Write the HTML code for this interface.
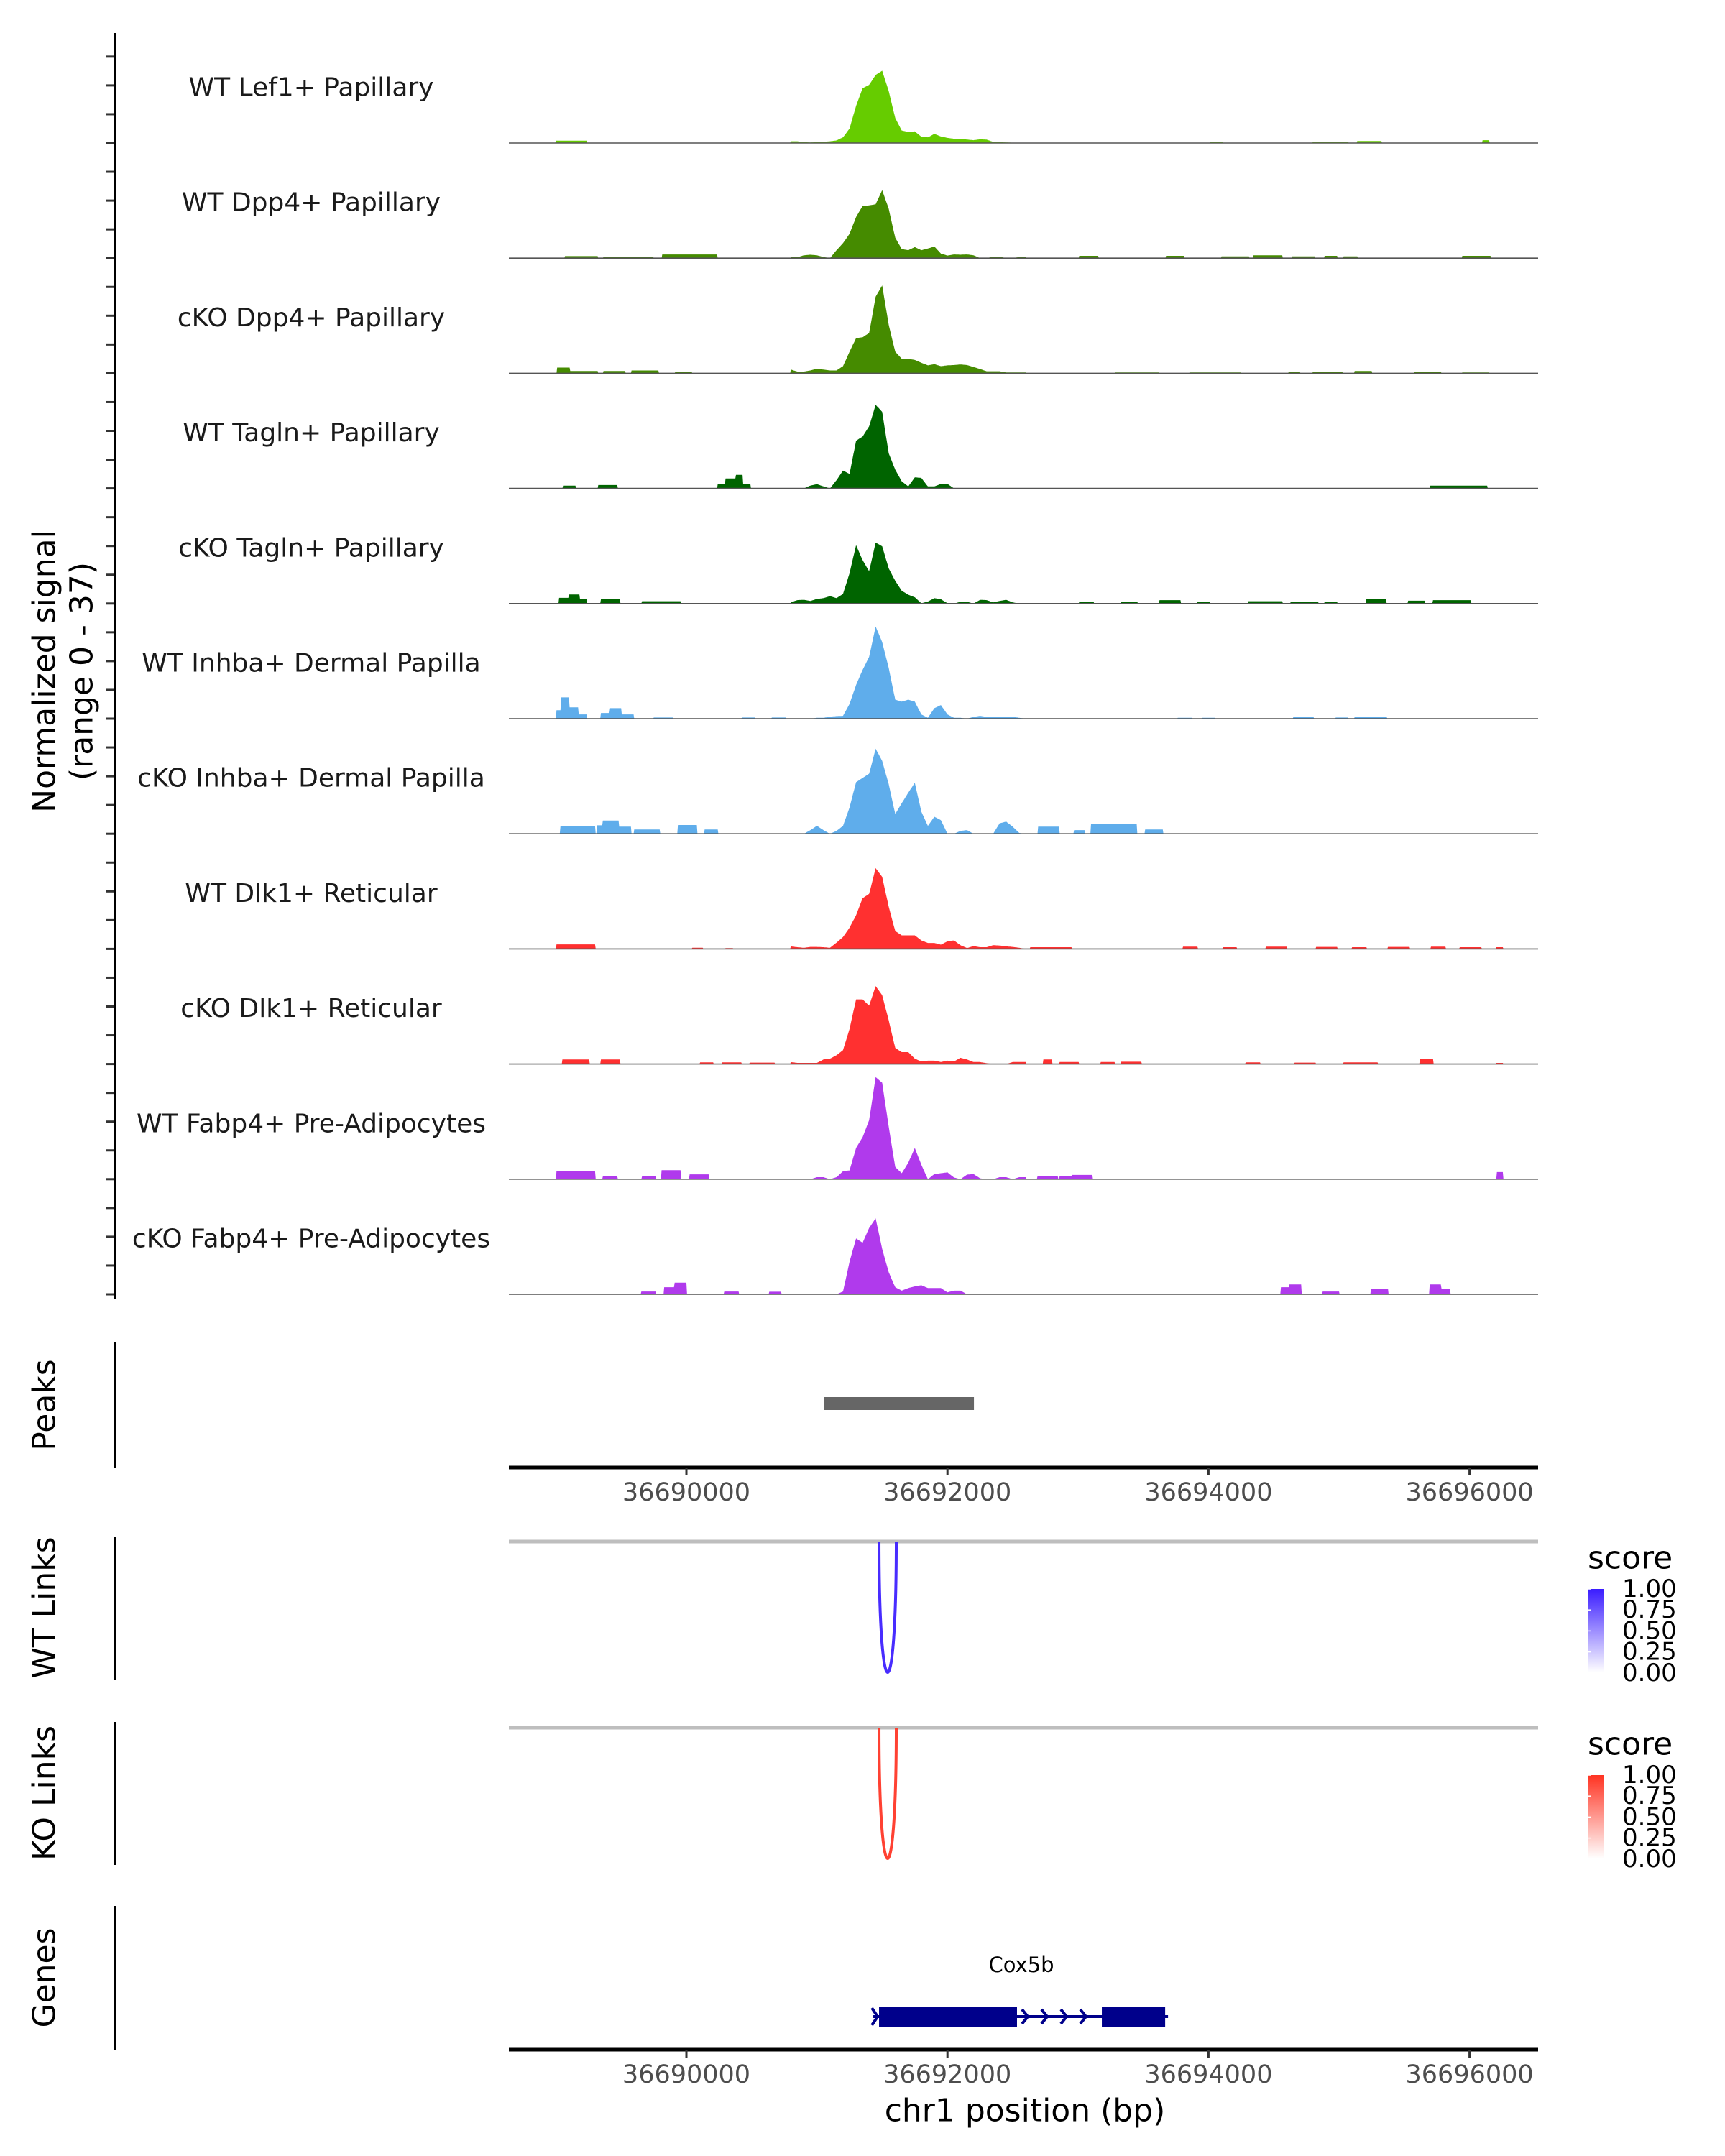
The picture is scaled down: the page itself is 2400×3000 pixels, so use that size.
<!DOCTYPE html>
<html><head><meta charset="utf-8"><style>
html,body{margin:0;padding:0;background:#fff}
svg{display:block;font-family:"DejaVu Sans","Liberation Sans",sans-serif}
</style></head><body>
<svg id="chart" width="2400" height="3000" viewBox="0 0 2400 3000" xmlns="http://www.w3.org/2000/svg">
<rect x="0" y="0" width="2400" height="3000" fill="#fff"/>
<g id="tracks"></g>
<g id="axes"></g>
</svg>
<script>
// ---- data ----
const origin = 36690000;
const trackNames = ["WT Lef1+ Papillary","WT Dpp4+ Papillary","cKO Dpp4+ Papillary","WT Tagln+ Papillary","cKO Tagln+ Papillary","WT Inhba+ Dermal Papilla","cKO Inhba+ Dermal Papilla","WT Dlk1+ Reticular","cKO Dlk1+ Reticular","WT Fabp4+ Pre-Adipocytes","cKO Fabp4+ Pre-Adipocytes"];
const trackColors = ["#66CC00","#458B00","#458B00","#006400","#006400","#5FADEB","#5FADEB","#FF3030","#FF3030","#B03AEC","#B03AEC"];
const gridPos = [36690800,36690850,36690900,36690950,36691000,36691050,36691100,36691150,36691200,36691250,36691300,36691350,36691400,36691450,36691500,36691550,36691600,36691650,36691700,36691750,36691800,36691850,36691900,36691950,36692000,36692050,36692100,36692150,36692200,36692250,36692300,36692350,36692400,36692450,36692500,36692550,36692600];
const peak1 = [0.6,0.6,0.3,0.2,0.3,0.4,0.6,0.9,2.0,5.1,13.1,19.3,20.5,24,25.5,18.3,8.8,4.4,3.9,4.1,2.2,2.0,3.2,2.3,1.8,1.5,1.5,1.2,1.0,1.3,1.2,0.4,0.3,0.2,0.1,0.1,0.1];
const peak2 = [0.3,0.3,1.0,1.2,1.0,0.4,0,2.8,5.3,8.6,14.5,18.4,18.6,19,24,17.4,7.2,3.2,2.8,3.9,2.8,3.4,4.1,1.6,0.9,1.3,1.2,1.3,1.0,0,0,0.5,0.5,0,0,0.4,0.4];
const peak3 = [1.3,0.6,0.6,1.0,1.6,1.3,1.0,1.0,2.5,7.6,12.4,12.7,14.2,27,31,17.1,7.6,5.1,5.1,4.7,3.7,2.8,3.2,2.5,2.8,2.9,3.1,2.9,2.2,1.5,0.7,0.7,0.7,0.3,0.3,0.3,0.3];
const peak4 = [0,0,0,1.0,1.5,0.7,0,2.9,6.3,5.1,16.8,18.3,21.9,29.5,27,12.4,6.6,2.5,0.7,3.9,3.7,0.7,0.7,1.6,1.6,0,0,0,0,0,0,0,0,0,0,0,0];
const peak5 = [0.4,1.2,1.3,0.9,1.6,1.9,2.6,1.9,3.4,10.7,20.6,15.3,11.4,21.5,20.2,12.4,8.0,4.5,3.1,2.2,0.1,0.7,1.9,1.5,0.1,0,0.6,0.6,0,1.3,1.2,0.4,0.9,1.3,0.4,0,0];
const peak6 = [0,0,0,0,0.3,0.3,0.7,0.9,1.0,5.2,11.9,17.2,21.8,32.5,27,17.9,6.7,6.0,6.7,6.0,1.5,0.3,3.7,4.8,1.5,0.3,0.3,0,0.6,1.0,0.6,0.7,0.6,0.6,0.7,0.3,0];
const peak7 = [0,0,0,1.3,2.8,1.3,0,1.0,2.8,9.3,18.2,19.7,21.2,30,25.7,17.5,7.0,10.8,14.5,18,7.8,2.8,6.0,4.8,0,0,1.0,1.3,0,0,0,0,3.7,4.3,2.5,0.3,0];
const peak8 = [0.9,0.6,0.4,0.7,0.7,0.6,0.4,2.2,4.2,7.5,11.9,17.9,19.4,28.5,25.4,14.9,6.3,4.8,4.8,4.8,3.0,2.1,2.1,1.5,2.7,3.0,1.3,0.3,1.0,0.6,0.6,1.3,1.2,0.9,0.7,0.4,0];
const peak9 = [0.7,0.4,0.4,0.4,0.4,1.6,1.9,3.1,4.9,12.4,22.8,22.8,20.6,27.5,24.3,15.4,5.7,4.2,4.2,1.9,0.9,1.2,1.2,0.7,1.2,0.9,2.2,1.6,0.7,0.7,0.3,0,0,0,0.7,0.7,0.7];
const peak10 = [0,0,0,0,0.7,0.7,0,0.7,2.8,3.1,11.0,14.8,20.8,36,34,18.5,4.3,2.1,5.8,11.0,5.1,0,1.8,2.1,2.4,0.6,0,1.6,1.8,0.3,0,0,0.7,0.7,0,0.7,0.7];
const peak11 = [0,0,0,0,0,0,0,0,1.0,11.5,19.7,18.2,23.4,26.8,16.0,7.8,2.5,1.3,2.2,2.8,3.2,2.2,2.2,2.2,0.7,1.3,1.3,0,0,0,0,0,0,0,0,0,0];
// background coverage segments: [start offset from origin, end offset, value]
const bg1 = [[-1002,-765,0.8],[4014,4108,0.4],[4797,5072,0.4],[5138,5325,0.7],[6100,6150,1.0]];
const bg2 = [[-931,-677,0.7],[-639,-253,0.5],[-187,237,1.3],[3007,3156,0.8],[3673,3811,0.8],[4097,4312,0.6],[4345,4565,1.0],[4637,4819,0.6],[4890,4989,0.8],[5033,5144,0.6],[5942,6162,0.8]];
const bg3 = [[-991,-892,2.0],[-892,-677,0.8],[-639,-468,0.8],[-424,-215,1.0],[-88,44,0.5],[3282,3624,0.3],[3855,4246,0.3],[4615,4703,0.5],[4797,5028,0.5],[5116,5254,0.8],[5579,5782,0.6],[5942,6151,0.3]];
const bg4 = [[-947,-848,1.0],[-677,-529,1.2],[237,300,1.5],[300,380,3.5],[380,430,4.8],[430,490,1.5],[5700,6135,1.0]];
const bg5 = [[-975,-900,2],[-900,-820,3.2],[-820,-765,1.5],[-655,-507,1.5],[-341,-44,0.8],[3007,3122,0.5],[3326,3458,0.5],[3624,3789,1.2],[3915,4014,0.5],[4301,4565,0.8],[4626,4841,0.5],[4890,4989,0.5],[5210,5364,1.5],[5529,5656,1.0],[5716,6014,1.2]];
const bg6 = [[-997,-960,3],[-960,-900,7.5],[-900,-830,4],[-830,-765,1.5],[-655,-590,2],[-590,-500,3.7],[-500,-402,1.5],[-253,-105,0.4],[424,529,0.4],[655,760,0.4],[3761,3877,0.3],[3949,4053,0.3],[4648,4808,0.5],[4973,5072,0.4],[5116,5369,0.6]];
const bg7 = [[-969,-699,2.7],[-688,-640,3],[-640,-520,4.7],[-520,-424,2.5],[-402,-204,1.5],[-66,83,3.1],[138,242,1.5],[2693,2858,2.5],[2968,3051,1.3],[3100,3453,3.5],[3513,3651,1.5]];
const bg8 = [[-997,-699,1.6],[44,127,0.4],[297,358,0.3],[2632,2952,0.6],[3805,3915,0.8],[4108,4218,0.6],[4438,4604,0.8],[4824,4989,0.7],[5099,5210,0.6],[5375,5540,0.7],[5705,5815,0.8],[5925,6091,0.6],[6201,6256,0.6]];
const bg9 = [[-953,-743,1.6],[-655,-507,1.6],[105,209,0.6],[275,424,0.6],[485,677,0.5],[2732,2803,1.6],[2858,3007,0.7],[3172,3282,0.7],[3326,3486,0.8],[4285,4395,0.6],[4659,4824,0.5],[5033,5298,0.6],[5617,5722,1.8],[6201,6256,0.4]];
const bg10 = [[-997,-699,2.8],[-644,-529,1.0],[-341,-231,1.0],[-193,-44,3.2],[22,171,1.7],[2687,2847,1.0],[2858,3050,1.2],[2952,3111,1.5],[6206,6256,2.5]];
const bg11 = [[-347,-231,1.0],[-171,-90,2.5],[-90,0,4.1],[286,402,1.0],[633,727,0.9],[4554,4620,2.5],[4620,4714,3.5],[4874,5000,1.0],[5243,5375,2.0],[5694,5780,3.5],[5780,5854,2.0]];
const yMax = 37;
const xTicks = [36690000,36692000,36694000,36696000];
const peakRegion = [36691057,36692203];
const wtLink = [36691476,36691608];
const koLink = [36691476,36691608];
const wtScore = 0.9, koScore = 0.9;
const geneName = "Cox5b";
const geneExons = [[36691476,36692533],[36693183,36693668]];
const legendTicks = ["1.00","0.75","0.50","0.25","0.00"];

// ---- layout ----
const peaks = [peak1,peak2,peak3,peak4,peak5,peak6,peak7,peak8,peak9,peak10,peak11];
const bgs = [bg1,bg2,bg3,bg4,bg5,bg6,bg7,bg8,bg9,bg10,bg11];
const NS = "http://www.w3.org/2000/svg";
const X0 = 708, X1 = 2140;
function xs(bp){ return 955 + (bp - origin) * 0.1816; }
const trackH = 146;
function baseY(i){ return 199 + 160.2 * i; }
function ys(v, i){ return baseY(i) - v / yMax * trackH; }
function mk(tag, attrs, parent){ const e = document.createElementNS(NS, tag); for (const k in attrs) e.setAttribute(k, attrs[k]); parent.appendChild(e); return e; }
const T = document.getElementById('tracks');
const A = document.getElementById('axes');

function valueAt(t, bp){
  let v = 0;
  const gp = gridPos, pv = peaks[t];
  if (bp >= gp[0] && bp <= gp[gp.length-1]) {
    for (let k = 0; k < gp.length-1; k++) {
      if (bp >= gp[k] && bp <= gp[k+1]) { const f = (bp-gp[k])/(gp[k+1]-gp[k]); v = pv[k]*(1-f)+pv[k+1]*f; break; }
    }
  }
  for (const s of bgs[t]) { if (bp-origin >= s[0] && bp-origin <= s[1]) v = Math.max(v, s[2]); }
  return v;
}

for (let t = 0; t < trackNames.length; t++) {
  const b = baseY(t);
  let d = "M" + X0 + "," + b;
  const startBp = origin - 1370, endBp = origin + 6520;
  for (let bp = startBp; bp <= endBp; bp += 5) {
    d += " L" + xs(bp).toFixed(1) + "," + ys(valueAt(t, bp), t).toFixed(1);
  }
  d += " L" + X1 + "," + b + " Z";
  const p = mk('path', {d: d, fill: trackColors[t], stroke: 'none'}, T);
  
  
  const ln = mk('line', {x1: X0, x2: X1, y1: b, y2: b, stroke: '#555', 'stroke-width': 1.6}, T);
  
  
  const lab = mk('text', {x: 433, y: b - 77, 'text-anchor': 'middle', 'dominant-baseline': 'central', 'font-size': 36, fill: '#1a1a1a'}, T);
  lab.textContent = trackNames[t];
  
  
  for (let k = 0; k < 4; k++) {
    const ty = b - k * 40.05;
    const tk = mk('line', {x1: 148, x2: 160, y1: ty, y2: ty, stroke: '#333', 'stroke-width': 3}, A);
    
    
  }
}

function vline(y1, y2, name){ const l = mk('line', {x1: 160, x2: 160, y1: y1, y2: y2, stroke: '#000', 'stroke-width': 3}, A);   }
vline(46, 1808, 'y-axis-line');
vline(1867, 2042, 'peaks-axis-line');
vline(2138, 2337, 'wt-links-axis-line');
vline(2396, 2595, 'ko-links-axis-line');
vline(2652, 2852, 'genes-axis-line');

function rotLabel(x, y, txt, name){ const e = mk('text', {x: 0, y: 0, transform: 'translate(' + x + ',' + y + ') rotate(-90)', 'text-anchor': 'middle', 'dominant-baseline': 'central', 'font-size': 44, fill: '#000'}, A); e.textContent = txt;   }
rotLabel(62, 934, 'Normalized signal', 'y-axis-title');
rotLabel(114, 934, '(range 0 - 37)', 'y-axis-range');
rotLabel(62, 1955, 'Peaks', 'peaks-label');
rotLabel(62, 2237, 'WT Links', 'wt-links-label');
rotLabel(62, 2495, 'KO Links', 'ko-links-label');
rotLabel(62, 2752, 'Genes', 'genes-label');

// peak region
const pr = mk('rect', {x: xs(peakRegion[0]), y: 1944, width: xs(peakRegion[1]) - xs(peakRegion[0]), height: 18, fill: '#666'}, A);



function xAxis(y, name){
  const l = mk('line', {x1: X0, x2: X1, y1: y, y2: y, stroke: '#000', 'stroke-width': 5}, A);
  
  
  for (const t of xTicks) {
    const tk = mk('line', {x1: xs(t), x2: xs(t), y1: y, y2: y + 11, stroke: '#333', 'stroke-width': 3}, A);
    
    
    const tl = mk('text', {x: xs(t), y: y + 35, 'text-anchor': 'middle', 'dominant-baseline': 'central', 'font-size': 35, fill: '#4d4d4d'}, A);
    tl.textContent = String(t);
    
    
  }
}
xAxis(2042, 'peaks-x-axis');
xAxis(2852, 'genes-x-axis');
const xt = mk('text', {x: 1426, y: 2937, 'text-anchor': 'middle', 'dominant-baseline': 'central', 'font-size': 44, fill: '#000'}, A);
xt.textContent = 'chr1 position (bp)';



// links
function linkPanel(top, link, score, color, lowColor, name){
  const g = mk('line', {x1: X0, x2: X1, y1: top, y2: top, stroke: '#bebebe', 'stroke-width': 5}, A);
  
  
  const xa = xs(link[0]), xb = xs(link[1]);
  const depth = 182;
  const yc = (top + depth - 0.25 * top) / 0.75;
  const c = mk('path', {d: 'M' + xa + ',' + top + ' C' + xa + ',' + yc + ' ' + xb + ',' + yc + ' ' + xb + ',' + top, fill: 'none', stroke: color, 'stroke-width': 4, 'stroke-opacity': 0.3 + 0.7 * score}, A);
  
  
  // legend
  const lt = mk('text', {x: 2209, y: top + 23, 'font-size': 44, fill: '#000', 'dominant-baseline': 'central'}, A);
  lt.textContent = 'score';
  
  
  const gid = 'grad-' + name;
  const defs = mk('defs', {}, A);
  const lg = mk('linearGradient', {id: gid, x1: 0, y1: 1, x2: 0, y2: 0}, defs);
  mk('stop', {offset: '0', 'stop-color': lowColor}, lg);
  mk('stop', {offset: '1', 'stop-color': color}, lg);
  const bar = mk('rect', {x: 2209, y: top + 66, width: 23, height: 116, fill: 'url(#' + gid + ')'}, A);
  
  
  legendTicks.forEach((s, i) => {
    const yy = top + 66 + i * 29.2;
    const tk = mk('line', {x1: 2209, x2: 2214, y1: yy, y2: yy, stroke: '#fff', 'stroke-width': 1.5}, A);
    
    
    const tx = mk('text', {x: 2257, y: yy, 'font-size': 34, fill: '#000', 'dominant-baseline': 'central'}, A);
    tx.textContent = s;
    
    
  });
}
linkPanel(2145, wtLink, wtScore, '#3a1cff', '#ffffff', 'wt-links');
linkPanel(2404, koLink, koScore, '#ff3322', '#ffffff', 'ko-links');

// gene model
const gy = 2806;
const gs = xs(geneExons[0][0]), ge = xs(geneExons[geneExons.length-1][1]);
const gl = mk('line', {x1: gs - 8, x2: ge + 4, y1: gy, y2: gy, stroke: '#00008B', 'stroke-width': 4}, A);


for (let k = 0; k < geneExons.length - 1; k++) {
  const a = xs(geneExons[k][1]), b = xs(geneExons[k+1][0]);
  for (let cx = a + 12; cx < b - 4; cx += 27) {
    const ch = mk('path', {d: 'M' + (cx - 5) + ',' + (gy - 10) + ' L' + (cx + 3) + ',' + gy + ' L' + (cx - 5) + ',' + (gy + 10), fill: 'none', stroke: '#00008B', 'stroke-width': 4}, A);
    
    
  }
}
const ch0 = mk('path', {d: 'M' + (gs - 10) + ',' + (gy - 12) + ' L' + (gs - 2) + ',' + gy + ' L' + (gs - 10) + ',' + (gy + 12), fill: 'none', stroke: '#00008B', 'stroke-width': 4}, A);


geneExons.forEach(ex => {
  const r = mk('rect', {x: xs(ex[0]), y: gy - 14, width: xs(ex[1]) - xs(ex[0]), height: 28, fill: '#00008B'}, A);
  
  
});
const gn = mk('text', {x: (gs + xs(geneExons[0][1])) / 2 + 102, y: 2734, 'text-anchor': 'middle', 'dominant-baseline': 'central', 'font-size': 29, fill: '#000'}, A);
gn.textContent = geneName;


</script>
</body></html>
